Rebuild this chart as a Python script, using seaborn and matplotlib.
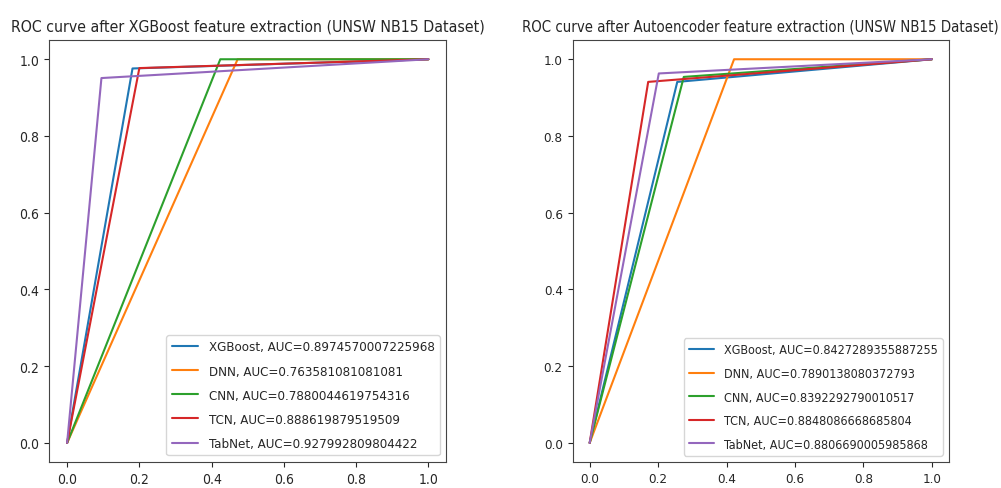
import pandas as pd
import matplotlib.pyplot as plt
import seaborn as sns

# Models and their single operating point (fpr, tpr)
models = ['XGBoost', 'DNN', 'CNN', 'TCN', 'TabNet']

# XGBoost feature extraction
xgb_fpr = [0.181, 0.472, 0.424, 0.200, 0.095]
xgb_tpr = [0.976, 1.000, 1.000, 0.977, 0.951]
xgb_auc = ['0.8974570007225968', '0.763581081081081', '0.7880044619754316',
           '0.888619879519509', '0.927992809804422']

# Autoencoder feature extraction
ae_fpr = [0.256, 0.422, 0.275, 0.171, 0.202]
ae_tpr = [0.941, 1.000, 0.954, 0.941, 0.963]
ae_auc = ['0.8427289355887255', '0.7890138080372793', '0.8392292790010517',
          '0.8848086668685804', '0.8806690005985868']

ticks = [0.0, 0.2, 0.4, 0.6, 0.8, 1.0]
tick_labels = ['0.0', '0.2', '0.4', '0.6', '0.8', '1.0']


def build_df(fpr, tpr, auc):
    rows = []
    for m, f, t, a in zip(models, fpr, tpr, auc):
        label = f"{m}, AUC={a}"
        for order, (x, y) in enumerate([(0.0, 0.0), (f, t), (1.0, 1.0)]):
            rows.append({'label': label, 'order': order, 'fpr': x, 'tpr': y})
    return pd.DataFrame(rows)


def draw(ax, df, title, title_size, leg_size, tick_size):
    sns.lineplot(data=df, x='fpr', y='tpr', hue='label', estimator=None,
                 sort=False, units='label', palette='tab10', linewidth=1.5, ax=ax)
    ax.set_title(title, fontsize=title_size, fontstretch='condensed', pad=7)
    ax.set_xlabel('')
    ax.set_ylabel('')
    ax.set_xticks(ticks)
    ax.set_xticklabels(tick_labels)
    ax.set_yticks(ticks)
    ax.set_yticklabels(tick_labels)
    for lab in ax.get_xticklabels() + ax.get_yticklabels():
        lab.set_fontstretch('condensed')
        lab.set_fontsize(tick_size)
    ax.margins(0.05)
    leg = ax.legend(loc='lower right', labelspacing=0.85, borderaxespad=0.5,
                    prop={'size': leg_size, 'stretch': 'condensed'})
    leg.get_frame().set_edgecolor('#cccccc')


sns.set_style('ticks')
plt.rcParams['font.family'] = ['DejaVu Sans']

fig = plt.figure(figsize=(10.01, 4.89), dpi=100)
ax1 = fig.add_axes([0.049, 0.053, 0.397, 0.863])
ax2 = fig.add_axes([0.572, 0.053, 0.376, 0.863])
for ax in (ax1, ax2):
    for s in ax.spines.values():
        s.set_visible(True)
        s.set_color('#444444')

draw(ax1, build_df(xgb_fpr, xgb_tpr, xgb_auc),
     'ROC curve after XGBoost feature extraction (UNSW NB15 Dataset)',
     11.3, 9.5, 10)
draw(ax2, build_df(ae_fpr, ae_tpr, ae_auc),
     'ROC curve after Autoencoder feature extraction (UNSW NB15 Dataset)',
     10.7, 9.0, 9.6)

fig.savefig('out.png', dpi=100)
